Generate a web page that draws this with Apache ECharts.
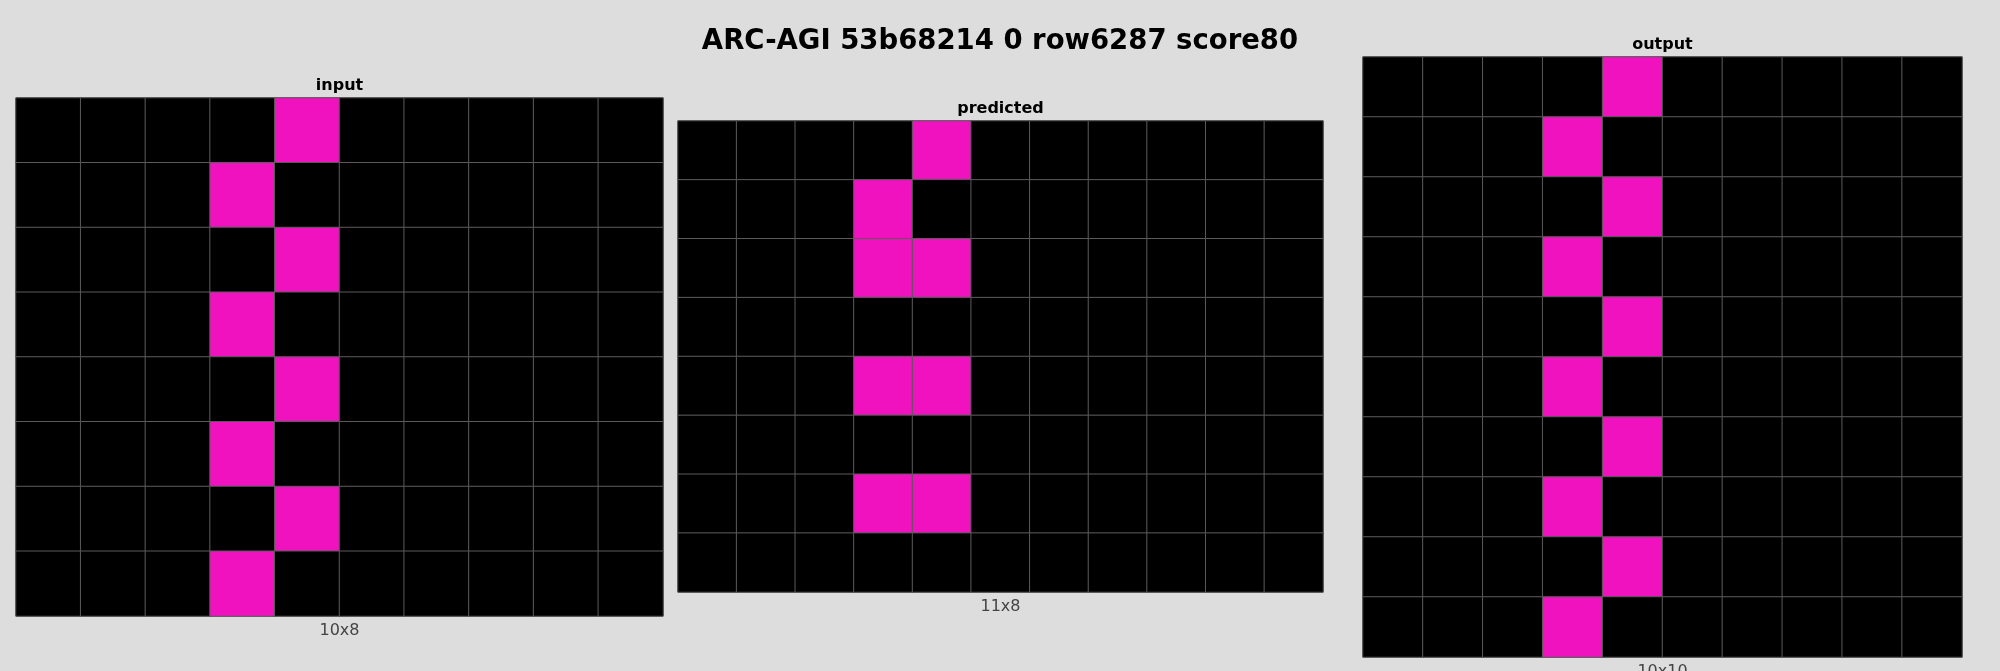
<!DOCTYPE html>
<html>
<head>
<meta charset="utf-8">
<script src="https://cdn.jsdelivr.net/npm/echarts@6/dist/echarts.min.js"></script>
<style>
  html, body { margin: 0; padding: 0; background: #dddddd; }
  #chart { width: 2000px; height: 671px; }
</style>
</head>
<body>
<div id="chart"></div>
<script>
// ARC colour palette, index = cell value
var arcColors = ['#000000', '#0074D9', '#FF4136', '#2ECC40', '#FFDC00',
                 '#AAAAAA', '#F012BE', '#FF851B', '#7FDBFF', '#870C25'];

var titleText = 'ARC-AGI 53b68214 0 row6287 score80';
var panelNames = ['input', 'predicted', 'output'];

// grids, row by row (top row first)
var inputGrid = [
    [0, 0, 0, 0, 6, 0, 0, 0, 0, 0],
    [0, 0, 0, 6, 0, 0, 0, 0, 0, 0],
    [0, 0, 0, 0, 6, 0, 0, 0, 0, 0],
    [0, 0, 0, 6, 0, 0, 0, 0, 0, 0],
    [0, 0, 0, 0, 6, 0, 0, 0, 0, 0],
    [0, 0, 0, 6, 0, 0, 0, 0, 0, 0],
    [0, 0, 0, 0, 6, 0, 0, 0, 0, 0],
    [0, 0, 0, 6, 0, 0, 0, 0, 0, 0]
];
var predictedGrid = [
    [0, 0, 0, 0, 6, 0, 0, 0, 0, 0, 0],
    [0, 0, 0, 6, 0, 0, 0, 0, 0, 0, 0],
    [0, 0, 0, 6, 6, 0, 0, 0, 0, 0, 0],
    [0, 0, 0, 0, 0, 0, 0, 0, 0, 0, 0],
    [0, 0, 0, 6, 6, 0, 0, 0, 0, 0, 0],
    [0, 0, 0, 0, 0, 0, 0, 0, 0, 0, 0],
    [0, 0, 0, 6, 6, 0, 0, 0, 0, 0, 0],
    [0, 0, 0, 0, 0, 0, 0, 0, 0, 0, 0]
];
var outputGrid = [
    [0, 0, 0, 0, 6, 0, 0, 0, 0, 0],
    [0, 0, 0, 6, 0, 0, 0, 0, 0, 0],
    [0, 0, 0, 0, 6, 0, 0, 0, 0, 0],
    [0, 0, 0, 6, 0, 0, 0, 0, 0, 0],
    [0, 0, 0, 0, 6, 0, 0, 0, 0, 0],
    [0, 0, 0, 6, 0, 0, 0, 0, 0, 0],
    [0, 0, 0, 0, 6, 0, 0, 0, 0, 0],
    [0, 0, 0, 6, 0, 0, 0, 0, 0, 0],
    [0, 0, 0, 0, 6, 0, 0, 0, 0, 0],
    [0, 0, 0, 6, 0, 0, 0, 0, 0, 0]
];

// panel boxes in px: left, top, width, height
var boxes = [
    { left: 16, top: 98, width: 647, height: 518 },
    { left: 678, top: 121, width: 645, height: 471 },
    { left: 1363, top: 57, width: 599, height: 600 }
];

var grids = [inputGrid, predictedGrid, outputGrid];

var chart = echarts.init(document.getElementById('chart'));

var gridOpt = [], xAxes = [], yAxes = [], series = [], graphics = [];

grids.forEach(function (g, i) {
    var rows = g.length, cols = g[0].length;
    var b = boxes[i];
    var xs = [], ys = [], data = [];
    for (var c = 0; c < cols; c++) xs.push(c);
    for (var r = 0; r < rows; r++) ys.push(r);
    for (r = 0; r < rows; r++) {
        for (c = 0; c < cols; c++) {
            data.push([c, r, g[r][c]]);
        }
    }
    gridOpt.push({
        left: b.left, top: b.top, width: b.width, height: b.height,
        show: true, borderColor: '#2a2a2a', borderWidth: 1, backgroundColor: '#000'
    });
    xAxes.push({ type: 'category', gridIndex: i, data: xs, show: false });
    yAxes.push({ type: 'category', gridIndex: i, data: ys, inverse: true, show: false });
    series.push({
        type: 'heatmap',
        xAxisIndex: i,
        yAxisIndex: i,
        data: data,
        itemStyle: { borderColor: '#5a5a5a', borderWidth: 1 },
        emphasis: { disabled: true }
    });
    // panel name above, size label below
    graphics.push({
        type: 'text',
        x: b.left + b.width / 2,
        y: b.top - 12,
        style: {
            text: panelNames[i], fill: '#000',
            font: 'bold 16px "DejaVu Sans"',
            align: 'center', verticalAlign: 'middle'
        }
    });
    graphics.push({
        type: 'text',
        x: b.left + b.width / 2,
        y: b.top + b.height + 15,
        style: {
            text: cols + 'x' + rows, fill: '#444',
            font: '16px "DejaVu Sans"',
            align: 'center', verticalAlign: 'middle'
        }
    });
});

graphics.push({
    type: 'text',
    x: 1000,
    y: 42,
    style: {
        text: titleText, fill: '#000',
        font: 'bold 27.5px "DejaVu Sans"',
        align: 'center', verticalAlign: 'middle'
    }
});

var pieces = arcColors.map(function (col, v) {
    return { value: v, color: col };
});

chart.setOption({
    backgroundColor: '#dddddd',
    animation: false,
    grid: gridOpt,
    xAxis: xAxes,
    yAxis: yAxes,
    visualMap: {
        type: 'piecewise',
        show: false,
        dimension: 2,
        seriesIndex: [0, 1, 2],
        pieces: pieces
    },
    graphic: graphics,
    series: series
});
</script>
</body>
</html>
